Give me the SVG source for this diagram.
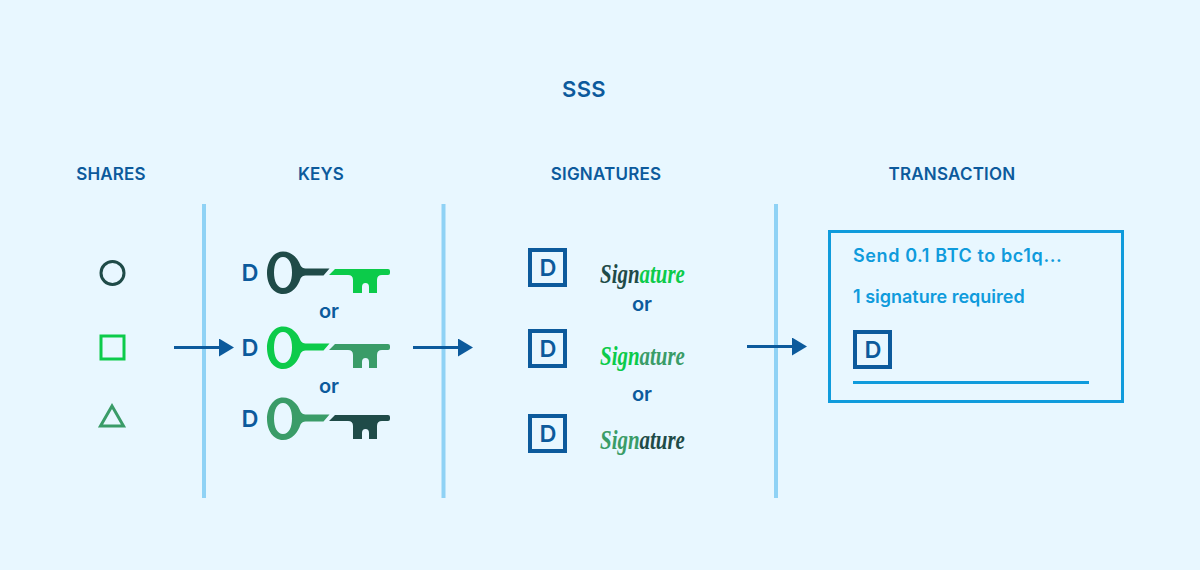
<svg xmlns="http://www.w3.org/2000/svg" width="1200" height="570" viewBox="0 0 1200 570">
<style>
text{font-family:Inter,"Liberation Sans",sans-serif;font-weight:600;fill:#0c5a9c}
.h{font-size:17px;text-anchor:middle;letter-spacing:.2px}
.or{font-size:20px;text-anchor:middle}
.d{font-size:23.500px;text-anchor:middle}
.t{font-size:18px;fill:#0f9bdc}
.sig{font-family:"Liberation Serif",serif;font-style:italic;font-weight:700;font-size:27px}
.div{stroke:#8fd2f5;stroke-width:4}
.conn{stroke:#0c5a9c;stroke-width:3;fill:none}
.box{fill:none;stroke:#0c5a9c;stroke-width:4}
.dk{fill:#1f4b48}.gr{fill:#0ccb4a}.md{fill:#3a9c68}
</style>
<defs>
<marker id="arr" markerUnits="userSpaceOnUse" markerWidth="15" markerHeight="18" refX="6" refY="9" orient="auto"><path d="M0 0L15 9L0 18Z" fill="#0c5a9c"/></marker>
<path id="bow" fill-rule="evenodd" d="M283 251.500c9 0 15 7 17.500 14c1 2 3 3 5 3h24l-6 7h-18c-2 0-4 1-5 3c-2.500 8-8.500 15.500-17.500 15.500c-10 0-16-10-16-21s6-21.500 16-21.500zM283 257c-6 0-9 7-9 15.500s3 15.500 9 15.500s9-7 9-15.500s-3-15.500-9-15.500z"/>
<path id="bit" d="M335 269h53q2 0 2 2v2q0 2-2 2h-6q-5 0-5 5v13h-8v-6q0-4-3.500-4t-3.500 4v6h-9v-13q0-5-5-5h-19z"/>
</defs>
<rect width="1200" height="570" fill="#e8f7ff"/>
<text id="title" x="584" y="97" font-size="22" text-anchor="middle" letter-spacing=".4">SSS</text>
<g id="headers">
<text class="h" x="111" y="179.500">SHARES</text>
<text class="h" x="321" y="179.500">KEYS</text>
<text class="h" x="606" y="179.500">SIGNATURES</text>
<text class="h" x="952" y="179.500">TRANSACTION</text>
</g>
<g id="dividers">
<line class="div" x1="204" y1="204" x2="204" y2="498"/>
<line class="div" x1="443.500" y1="204" x2="443.500" y2="498"/>
<line class="div" x1="776" y1="204" x2="776" y2="498"/>
</g>
<g id="connectors">
<line class="conn" x1="174" y1="347.500" x2="225" y2="347.500" marker-end="url(#arr)"/>
<line class="conn" x1="413" y1="347.500" x2="464" y2="347.500" marker-end="url(#arr)"/>
<line class="conn" x1="747" y1="346.500" x2="798" y2="346.500" marker-end="url(#arr)"/>
</g>
<g id="share-circle"><circle cx="112.500" cy="273" r="11.500" fill="none" stroke="#1f4b48" stroke-width="3"/></g>
<g id="share-square"><rect x="101" y="336" width="23" height="23" fill="none" stroke="#0ccb4a" stroke-width="3"/></g>
<g id="share-triangle"><path d="M112 406L123.500 426H100.500Z" fill="none" stroke="#3a9c68" stroke-width="3"/></g>
<g id="key-1"><text class="d" x="250" y="281">D</text><use href="#bow" class="dk"/><use href="#bit" class="gr"/></g>
<g id="key-2"><text class="d" x="250" y="356">D</text><use href="#bow" class="gr" y="75"/><use href="#bit" class="md" y="75"/></g>
<g id="key-3"><text class="d" x="250" y="427">D</text><use href="#bow" class="md" y="146"/><use href="#bit" class="dk" y="146"/></g>
<text class="or" x="329" y="318">or</text>
<text class="or" x="329" y="393">or</text>
<g id="sig-box-1"><rect class="box" x="530" y="250" width="35" height="35"/><text class="d" x="548" y="276">D</text></g>
<g id="sig-box-2"><rect class="box" x="530" y="331" width="35" height="35"/><text class="d" x="548" y="357">D</text></g>
<g id="sig-box-3"><rect class="box" x="530" y="416" width="35" height="35"/><text class="d" x="548" y="442">D</text></g>
<g id="signature-1"><text class="sig" transform="translate(600 283) scale(.775 1)" style="fill:#1f4b48">Sign<tspan style="fill:#0ccb4a">ature</tspan></text></g>
<g id="signature-2"><text class="sig" transform="translate(600 365) scale(.775 1)" style="fill:#0ccb4a">Sign<tspan style="fill:#3a9c68">ature</tspan></text></g>
<g id="signature-3"><text class="sig" transform="translate(600 449) scale(.775 1)" style="fill:#3a9c68">Sign<tspan style="fill:#1f4b48">ature</tspan></text></g>
<text class="or" x="642" y="311">or</text>
<text class="or" x="642" y="401">or</text>
<g id="transaction">
<rect x="829.500" y="231.500" width="293" height="170" fill="none" stroke="#0f9bdc" stroke-width="3"/>
<text class="t" x="853" y="262" letter-spacing=".6">Send 0.1 BTC to bc1q...</text>
<text class="t" x="853" y="303">1 signature required</text>
<rect class="box" x="855" y="332" width="35" height="35"/>
<text class="d" x="873" y="358">D</text>
<line x1="853" y1="382.500" x2="1089" y2="382.500" stroke="#0f9bdc" stroke-width="3"/>
</g>
</svg>
